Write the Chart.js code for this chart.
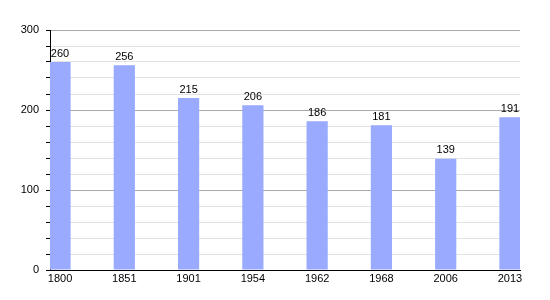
<!DOCTYPE html>
<html>
<head>
<meta charset="utf-8">
<script src="https://cdn.jsdelivr.net/npm/chart.js@4"></script>
<style>
  html, body { margin: 0; padding: 0; background: #fff; }
  #wrap { width: 550px; height: 300px; }
</style>
</head>
<body>
<div id="wrap"><canvas id="popChart"></canvas></div>
<script>
const years = ["1800", "1851", "1901", "1954", "1962", "1968", "2006", "2013"];
const population = [260, 256, 215, 206, 186, 181, 139, 191];
const yTicks = [0, 100, 200, 300];

Chart.defaults.font.family = "'Liberation Sans', Arial, sans-serif";
Chart.defaults.font.size = 11;
Chart.defaults.color = "#000";

// valeurs au-dessus des barres
const valueLabels = {
    id: "valueLabels",
    afterDatasetsDraw(chart) {
        const ctx = chart.ctx;
        const meta = chart.getDatasetMeta(0);
        ctx.save();
        ctx.font = "11px 'Liberation Sans', Arial, sans-serif";
        ctx.fillStyle = "#000";
        ctx.textAlign = "center";
        ctx.textBaseline = "bottom";
        meta.data.forEach((bar, i) => {
            ctx.fillText(String(population[i]), bar.x, bar.y - 3);
        });
        ctx.restore();
    }
};

const ctx = document.getElementById("popChart").getContext("2d");

new Chart(ctx, {
    type: "bar",
    data: {
        datasets: [{
            data: population.map((v, i) => ({ x: i, y: v })),
            backgroundColor: "#99aaff",
            borderWidth: 0,
            categoryPercentage: 1,
            barPercentage: 0.33
        }]
    },
    options: {
        responsive: true,
        maintainAspectRatio: false,
        animation: false,
        layout: { padding: { left: 0, top: 30, right: 30, bottom: 0 } },
        plugins: {
            legend: { display: false },
            tooltip: { enabled: false }
        },
        scales: {
            x: {
                type: "linear",
                offset: false,
                min: -0.156,
                max: years.length - 1 + 0.156,
                afterBuildTicks: (axis) => {
                    axis.ticks = years.map((y, i) => ({ value: i }));
                },
                ticks: {
                    autoSkip: false,
                    maxRotation: 0,
                    padding: 2,
                    callback: (v) => years[v] ?? ""
                },
                grid: { display: false, drawTicks: false, offset: false },
                border: { color: "#000", width: 1 },
                afterFit: (axis) => { axis.height = 30; }
            },
            y: {
                min: 0,
                max: 300,
                afterBuildTicks: (axis) => {
                    const t = [];
                    for (let v = 0; v <= 300; v += 20) t.push({ value: v });
                    axis.ticks = t;
                },
                ticks: {
                    autoSkip: false,
                    padding: 7,
                    callback: (v) => yTicks.includes(v) ? String(v) : ""
                },
                grid: {
                    color: (c) => (c.tick && c.tick.value % 100 === 0) ? "#aaaaaa" : "#e2e2e2",
                    tickColor: "#000",
                    tickLength: 4,
                    lineWidth: 1
                },
                border: { color: "#000", width: 1 },
                afterFit: (axis) => { axis.width = 50; }
            }
        }
    },
    plugins: [valueLabels]
});
</script>
</body>
</html>
